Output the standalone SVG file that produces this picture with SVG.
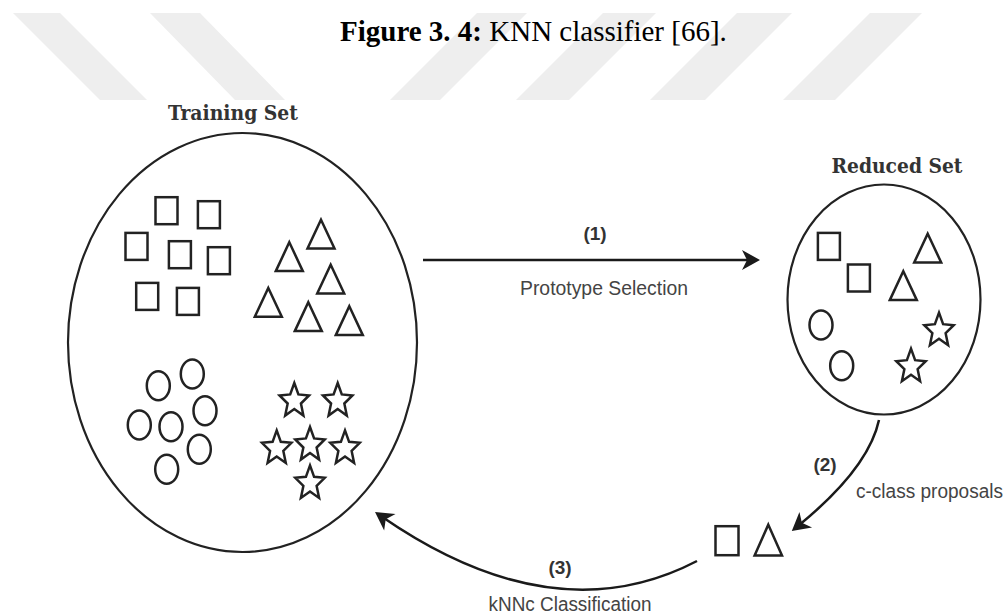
<svg xmlns="http://www.w3.org/2000/svg" xmlns:xlink="http://www.w3.org/1999/xlink" width="1007" height="615" viewBox="0 0 1007 615">
<style>
.wm{fill:#eeeeee}
.sh{fill:none;stroke:#222;stroke-width:2.5}
.set{fill:none;stroke:#222;stroke-width:2.2}
.con{fill:none;stroke:#1a1a1a;stroke-width:2.5}
.ttl{font-family:"Liberation Serif","Times New Roman",serif;font-size:29px;fill:#000}
.setlbl{font-family:"DejaVu Serif Condensed","DejaVu Serif",serif;font-weight:bold;font-size:20px;fill:#333}
.num{font-family:"Liberation Sans",Arial,sans-serif;font-weight:bold;font-size:19px;fill:#333}
.lbl{font-family:"Liberation Sans",Arial,sans-serif;font-size:19.5px;fill:#444}
</style>
<defs>
<path id="star" class="sh" d="M0,-18 L4.1,-6.55 L14.74,-5.56 L6.63,2.5 L9.11,14.56 L0,8.1 L-9.11,14.56 L-6.63,2.5 L-14.74,-5.56 L-4.1,-6.55 Z"/>
<path id="tri" class="sh" d="M0,3 L13.5,31.8 L-13.5,31.8 Z"/>
<ellipse id="circ" class="sh" cx="0" cy="0" rx="11.5" ry="14.5"/>
<rect id="sq" class="sh" x="0" y="0" width="22" height="27"/>
<marker id="ah" viewBox="-20 -12 24 24" refX="-8" refY="0" markerWidth="24" markerHeight="24" markerUnits="userSpaceOnUse" orient="auto">
<path d="M0,0 L-18,-10 L-13,0 L-18,10 Z" fill="#1a1a1a"/>
</marker>
</defs>
<rect x="0" y="0" width="1007" height="615" fill="#fff"/>
<g id="watermark">
<polygon class="wm" points="13,13 60,13 147,100 100,100"/>
<polygon class="wm" points="150,13 200,13 285,100 235,100"/>
<polygon class="wm" points="477,13 527,13 440,100 390,100"/>
<polygon class="wm" points="603,13 656,13 569,100 516,100"/>
<polygon class="wm" points="737,13 792,13 705,100 650,100"/>
<polygon class="wm" points="870,13 922,13 835,100 783,100"/>
</g>
<g id="title">
<text class="ttl" x="340" y="41"><tspan font-weight="bold">Figure 3. 4:</tspan> KNN classifier [66].</text>
</g>
<g id="training-set">
<ellipse class="set" cx="242.5" cy="342.5" rx="174.5" ry="209.5"/>
<text class="setlbl" x="233" y="120" text-anchor="middle" textLength="130" lengthAdjust="spacingAndGlyphs">Training Set</text>
<use xlink:href="#sq" x="155.5" y="197.2"/>
<use xlink:href="#sq" x="197.9" y="201.2"/>
<use xlink:href="#sq" x="125.5" y="232.9"/>
<use xlink:href="#sq" x="168.9" y="241.2"/>
<use xlink:href="#sq" x="207.9" y="247.2"/>
<use xlink:href="#sq" x="136.2" y="282.9"/>
<use xlink:href="#sq" x="176.9" y="287.9"/>
<use xlink:href="#tri" x="321" y="216.7"/>
<use xlink:href="#tri" x="289.3" y="239.3"/>
<use xlink:href="#tri" x="330.7" y="261.7"/>
<use xlink:href="#tri" x="268.3" y="285"/>
<use xlink:href="#tri" x="308.3" y="299.3"/>
<use xlink:href="#tri" x="349.3" y="303.3"/>
<use xlink:href="#circ" x="158.3" y="385.7"/>
<use xlink:href="#circ" x="192.3" y="374"/>
<use xlink:href="#circ" x="139.3" y="425"/>
<use xlink:href="#circ" x="171" y="426.7"/>
<use xlink:href="#circ" x="205" y="410.7"/>
<use xlink:href="#circ" x="199.3" y="449.3"/>
<use xlink:href="#circ" x="166.7" y="469.3"/>
<use xlink:href="#star" x="294.3" y="401"/>
<use xlink:href="#star" x="337.7" y="401"/>
<use xlink:href="#star" x="276.7" y="448.4"/>
<use xlink:href="#star" x="310" y="445"/>
<use xlink:href="#star" x="345" y="448.4"/>
<use xlink:href="#star" x="310" y="483.4"/>
</g>
<g id="reduced-set">
<ellipse class="set" cx="884" cy="299.5" rx="96.5" ry="115"/>
<text class="setlbl" x="897" y="173" text-anchor="middle" textLength="131" lengthAdjust="spacingAndGlyphs">Reduced Set</text>
<use xlink:href="#sq" x="817.9" y="232.9"/>
<use xlink:href="#sq" x="847.9" y="264.5"/>
<use xlink:href="#tri" x="927.7" y="230.7"/>
<use xlink:href="#tri" x="903.3" y="268.3"/>
<use xlink:href="#circ" x="821" y="325"/>
<use xlink:href="#circ" x="841.7" y="365.7"/>
<use xlink:href="#star" x="939" y="330.7"/>
<use xlink:href="#star" x="911" y="366.7"/>
</g>
<g id="proposals">
<rect class="sh" x="715.5" y="526.2" width="23" height="29"/>
<path class="sh" d="M768.3,524.7 L782,555.5 L754.6,555.5 Z"/>
</g>
<g id="connectors">
<line class="con" x1="423" y1="260" x2="752" y2="260" marker-end="url(#ah)"/>
<path class="con" d="M879,420 Q868.5,468.5 798,526" marker-end="url(#ah)"/>
<path class="con" d="M697,561 Q554,635.5 381.6,516.5" marker-end="url(#ah)"/>
<text class="num" x="595" y="240" text-anchor="middle">(1)</text>
<text class="lbl" x="604" y="295" text-anchor="middle" textLength="168" lengthAdjust="spacingAndGlyphs">Prototype Selection</text>
<text class="num" x="825" y="471" text-anchor="middle">(2)</text>
<text class="lbl" x="856" y="497.5" textLength="147" lengthAdjust="spacingAndGlyphs">c-class proposals</text>
<text class="num" x="560" y="574" text-anchor="middle">(3)</text>
<text class="lbl" x="570" y="611" text-anchor="middle" textLength="163" lengthAdjust="spacingAndGlyphs">kNNc Classification</text>
</g>
</svg>
